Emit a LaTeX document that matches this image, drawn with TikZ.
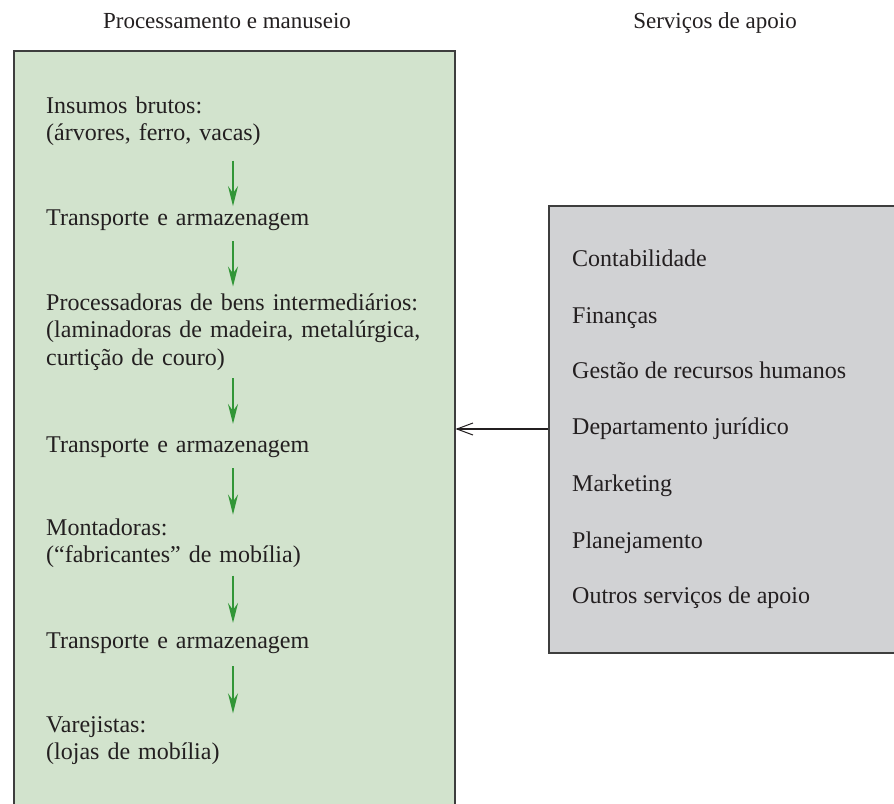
\documentclass[tikz,border=0pt]{standalone}
\usepackage{fontspec}
\setmainfont{Liberation Serif}
\usetikzlibrary{arrows.meta}

\definecolor{procfill}{RGB}{210,227,205}
\definecolor{supfill}{RGB}{209,210,212}
\definecolor{panelrule}{RGB}{62,62,62}
\definecolor{flowgreen}{RGB}{50,150,55}
\definecolor{ink}{RGB}{35,31,32}

\tikzset{
  panel/.style={draw=panelrule, line width=1.5pt, inner sep=0pt, anchor=north west},
  heading/.style={font=\fontsize{23}{27}\selectfont, text=ink, anchor=base, inner sep=0pt},
  stage/.style={font=\fontsize{24}{27.5}\selectfont, text=ink, anchor=base west,
                inner sep=0pt, align=left, text width=400pt},
  service/.style={font=\fontsize{24}{27.5}\selectfont, text=ink, anchor=base west, inner sep=0pt},
  flow/.style={draw=flowgreen, line width=2pt,
               -{Stealth[length=20pt,width=10pt,inset=7pt]}},
  support/.style={draw=ink, line width=2pt,
               -{Straight Barb[length=16pt,width=12pt,line width=1pt]}}
}

\begin{document}
\begin{tikzpicture}[x=1pt,y=-1pt]
\useasboundingbox (0,0) rectangle (894,803);
\clip (0,0) rectangle (894,803);

% column headings
\node[heading] (hproc) at (227,28) {Processamento e manuseio};
\node[heading] (hsup)  at (715,28) {Serviços de apoio};

% the two panels (both run past the page edge)
\node[panel, fill=procfill, minimum width=441pt, minimum height=800pt] (proc) at (13,50) {};
\node[panel, fill=supfill,  minimum width=380pt, minimum height=447pt] (supp) at (548,205) {};

% stages of the supply chain
\node[stage] (b1) at (46,113) {Insumos brutos:\\(árvores, ferro, vacas)};
\node[stage] (b2) at (46,225) {Transporte e armazenagem};
\node[stage] (b3) at (46,310) {Processadoras de bens intermediários:\\(laminadoras de madeira, metalúrgica,\\curtição de couro)};
\node[stage] (b4) at (46,452) {Transporte e armazenagem};
\node[stage] (b5) at (46,535) {Montadoras:\\(“fabricantes” de mobília)};
\node[stage] (b6) at (46,648) {Transporte e armazenagem};
\node[stage] (b7) at (46,732) {Varejistas:\\(lojas de mobília)};

% support services
\node[service] (s1) at (572,266) {Contabilidade};
\node[service] (s2) at (572,323) {Finanças};
\node[service] (s3) at (572,378) {Gestão de recursos humanos};
\node[service] (s4) at (572,434) {Departamento jurídico};
\node[service] (s5) at (572,491) {Marketing};
\node[service] (s6) at (572,548) {Planejamento};
\node[service] (s7) at (572,603) {Outros serviços de apoio};

% flow between stages
\coordinate (ax) at (233,0);
\draw[flow, shorten <=14.7pt, shorten >=3pt]   (b1.south -| ax) -- (b2.north -| ax);
\draw[flow, shorten <=10.8pt, shorten >=6.6pt] (b2.south -| ax) -- (b3.north -| ax);
\draw[flow, shorten <=7.8pt,  shorten >=12.1pt](b3.south -| ax) -- (b4.north -| ax);
\draw[flow, shorten <=10.8pt, shorten >=3.6pt] (b4.south -| ax) -- (b5.north -| ax);
\draw[flow, shorten <=7.7pt,  shorten >=9.1pt] (b5.south -| ax) -- (b6.north -| ax);
\draw[flow, shorten <=12.8pt, shorten >=2.6pt] (b6.south -| ax) -- (b7.north -| ax);

% support services feed the processing chain
\coordinate (link) at (0,429);
\draw[support] (supp.west |- link) -- (proc.east |- link);
\end{tikzpicture}
\end{document}
